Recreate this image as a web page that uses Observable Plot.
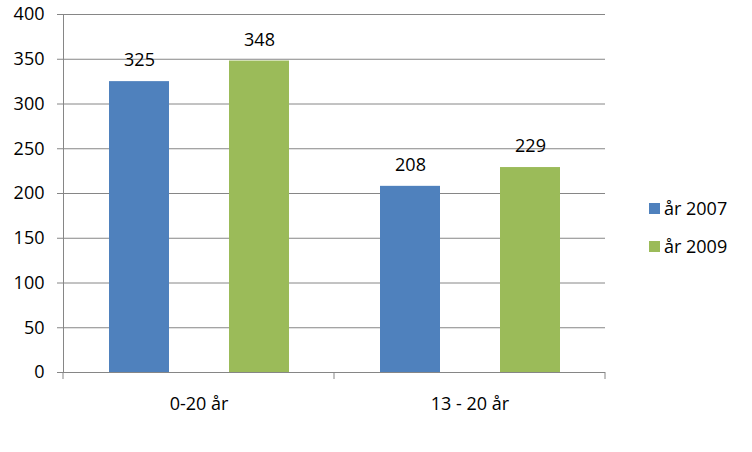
<!DOCTYPE html>
<html>
<head>
<meta charset="utf-8">
<script src="https://cdn.jsdelivr.net/npm/d3@7"></script>
<script src="https://cdn.jsdelivr.net/npm/@observablehq/plot@0.6"></script>
<style>
  html, body { margin: 0; padding: 0; background: #fff; }
  #wrap { position: relative; width: 752px; height: 452px; font-family: "Open Sans", Lato, sans-serif; }
  #legend { position: absolute; left: 649px; top: 196px; font-size: 18px; color: #000; }
  .item { display: flex; align-items: center; height: 24px; margin-bottom: 14px; }
  .sw { width: 11px; height: 11px; margin-right: 4px; }
</style>
</head>
<body>
<div id="wrap"><div id="legend"></div></div>
<script>
const categories = ["0-20 år", "13 - 20 år"];
const series = ["år 2007", "år 2009"];
const values2007 = [325, 208];
const values2009 = [348, 229];
const yTicks = [0, 50, 100, 150, 200, 250, 300, 350, 400];
const colors = ["#4F81BD", "#9BBB59"];

const data = categories.flatMap((c, i) => [
  {cat: c, s: series[0], v: values2007[i]},
  {cat: c, s: series[1], v: values2009[i]}
]);

const grid = "#868686";
const chart = Plot.plot({
  width: 752, height: 452,
  marginLeft: 63, marginRight: 147, marginTop: 14, marginBottom: 80,
  style: {fontFamily: '"Open Sans", Lato, sans-serif', fontSize: "18px", color: "#000", background: "#fff", overflow: "visible"},
  fx: {domain: categories, padding: 0, label: null, axis: "bottom", tickSize: 0, tickPadding: 25, fontSize: 18},
  x: {domain: series, axis: null, paddingInner: 0.5, paddingOuter: 0.379},
  y: {domain: [0, 400], axis: null},
  color: {domain: series, range: colors},
  marks: [
    Plot.ruleY(yTicks, {stroke: grid, strokeWidth: 1}),
    Plot.frame({anchor: "left", stroke: grid, facetAnchor: "left"}),
    Plot.barY(data, {fx: "cat", x: "s", y: "v", fill: "s"}),
    Plot.text(data, {fx: "cat", x: "s", y: "v", text: d => String(d.v), dy: -21, fill: "#000", fontSize: 18}),
    Plot.axisY({ticks: yTicks, tickSize: 6, tickPadding: 13, stroke: grid, label: null, fontSize: 18})
  ]
});

// category boundary ticks below the axis, placed with the fx scale
const fx = chart.scale("fx");
const y = chart.scale("y");
const y0 = y.apply(0);
const bounds = categories.map(c => fx.apply(c)).concat([fx.apply(categories[categories.length - 1]) + fx.bandwidth]);
const svg = d3.select(chart.tagName === "svg" ? chart : chart.querySelector("svg"));
svg.append("g").selectAll("line").data(bounds).join("line")
  .attr("x1", d => d).attr("x2", d => d)
  .attr("y1", y0).attr("y2", y0 + 7)
  .attr("stroke", grid);

document.getElementById("wrap").prepend(chart);

const legend = d3.select("#legend");
series.forEach((s, i) => {
  const it = legend.append("div").attr("class", "item");
  it.append("div").attr("class", "sw").style("background", colors[i]);
  it.append("span").text(s);
});
</script>
</body>
</html>
